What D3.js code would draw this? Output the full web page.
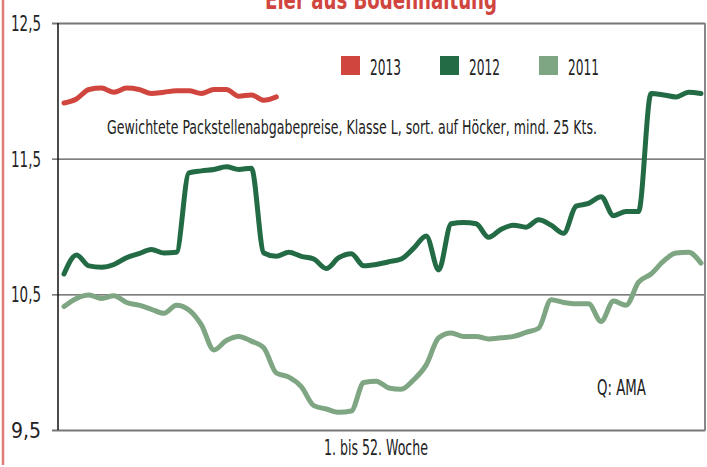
<!DOCTYPE html>
<html>
<head>
<meta charset="utf-8">
<script src="https://cdn.jsdelivr.net/npm/d3@7"></script>
<style>
  body { margin: 0; background: #fff; }
  text { font-family: "DejaVu Sans Condensed", "Liberation Sans", sans-serif; fill: #222; }
</style>
</head>
<body>
<script>
// weekly prices, week 1..52
let weeks = d3.range(1, 53);
let eggs2013 = [11.91, 11.94, 12.01, 12.02, 11.99, 12.02, 12.01, 11.98, 11.99, 12.0,
  12.0, 11.98, 12.01, 12.01, 11.96, 11.97, 11.93, 11.955];
let eggs2012 = [10.65, 10.79, 10.71, 10.70, 10.72, 10.77, 10.80, 10.83, 10.805, 10.81,
  11.395, 11.41, 11.42, 11.44, 11.42, 11.43, 10.805, 10.78, 10.81, 10.78,
  10.76, 10.69, 10.77, 10.80, 10.71, 10.72, 10.74, 10.76, 10.84, 10.93,
  10.68, 11.02, 11.03, 11.02, 10.92, 10.98, 11.01, 10.995, 11.05, 11.01,
  10.95, 11.15, 11.17, 11.22, 11.08, 11.11, 11.11, 11.98, 11.97, 11.955,
  11.99, 11.98];
let eggs2011 = [10.41, 10.47, 10.495, 10.47, 10.49, 10.44, 10.42, 10.39, 10.36, 10.42,
  10.385, 10.275, 10.09, 10.16, 10.19, 10.155, 10.105, 9.92, 9.89, 9.82,
  9.68, 9.655, 9.63, 9.64, 9.85, 9.86, 9.81, 9.80, 9.87, 9.98,
  10.18, 10.215, 10.19, 10.19, 10.17, 10.18, 10.19, 10.22, 10.25, 10.46,
  10.44, 10.43, 10.43, 10.30, 10.45, 10.42, 10.59, 10.65, 10.745, 10.805,
  10.81, 10.73];
let yTicks = [9.5, 10.5, 11.5, 12.5];
let seriesNames = ['2013', '2012', '2011'];
let colors = ['#d0463f', '#236b45', '#7ea683'];

let width = 707, height = 467;
let plotLeft = 58, plotRight = 705, plotTop = 23, plotBottom = 430;

let svg = d3.select('body').append('svg')
  .attr('width', width).attr('height', height)

let xScale = d3.scaleLinear().domain([1, 52]).range([64, 701])
let yScale = d3.scaleLinear().domain([9.5, 12.5]).range([plotBottom, plotTop])

// narrow font look: squeeze text to the widths of the original
function squeeze(sel, w) {
  sel.attr('textLength', w).attr('lengthAdjust', 'spacingAndGlyphs')
}

// red strip on the left
svg.append('line')
  .attr('x1', 3).attr('x2', 3).attr('y1', 0).attr('y2', 465)
  .attr('stroke', '#e07a78').attr('stroke-width', 2.5)

// title, cut off at the top like the original
svg.append('text')
  .attr('x', 265).attr('y', 9)
  .style('font-size', '26px').style('font-weight', 'bold')
  .style('fill', '#d0463f')
  .text('Eier aus Bodenhaltung')
  .call(squeeze, 232)

// y axis with gridlines
let yAxis = d3.axisLeft(yScale)
  .tickValues(yTicks)
  .tickSize(-(plotRight - plotLeft + 6))
  .tickPadding(11)
  .tickFormat(d => d3.format('.1f')(d).replace('.', ','))

let gy = svg.append('g')
  .attr('transform', 'translate(' + (plotLeft - 6) + ',0)')
  .call(yAxis)
gy.select('.domain').remove()
gy.selectAll('.tick line').attr('stroke', '#555').attr('stroke-width', 1.2)
gy.selectAll('.tick text')
  .style('font-size', '21px').attr('fill', '#222').attr('dy', '0.36em')
  .call(squeeze, 30)
gy.selectAll('.tick').filter(d => d == 9.5 || d == 12.5)
  .select('line').attr('stroke', '#777').attr('stroke-width', 2.2)

// left axis and right frame
svg.append('line')
  .attr('x1', plotLeft).attr('x2', plotLeft).attr('y1', plotTop).attr('y2', plotBottom)
  .attr('stroke', '#111').attr('stroke-width', 1.5)
svg.append('line')
  .attr('x1', plotRight).attr('x2', plotRight).attr('y1', plotTop).attr('y2', plotBottom + 1)
  .attr('stroke', '#888').attr('stroke-width', 2)

let line = d3.line()
  .x((d, i) => xScale(weeks[i]))
  .y(d => yScale(d))
  .curve(d3.curveMonotoneX)

let allSeries = [eggs2011, eggs2012, eggs2013];
let allColors = [colors[2], colors[1], colors[0]];
svg.selectAll('path.series')
  .data(allSeries)
  .enter()
  .append('path')
  .attr('class', 'series')
  .attr('d', d => line(d))
  .attr('fill', 'none')
  .attr('stroke', (d, i) => allColors[i])
  .attr('stroke-width', 5)
  .attr('stroke-linejoin', 'round')
  .attr('stroke-linecap', 'round')

// legend
let legend = svg.selectAll('g.legend')
  .data(seriesNames)
  .enter()
  .append('g')
  .attr('class', 'legend')
  .attr('transform', (d, i) => 'translate(' + (341 + i * 99) + ',56)')
legend.append('rect')
  .attr('width', 19).attr('height', 19)
  .attr('fill', (d, i) => colors[i])
legend.append('text')
  .attr('x', 29).attr('y', 19)
  .style('font-size', '22px')
  .text(d => d)
  .call(squeeze, 31)

svg.append('text')
  .attr('x', 107).attr('y', 134)
  .style('font-size', '20px')
  .text('Gewichtete Packstellenabgabepreise, Klasse L, sort. auf Höcker, mind. 25 Kts.')
  .call(squeeze, 490)

svg.append('text')
  .attr('x', 597).attr('y', 395)
  .style('font-size', '21px')
  .text('Q: AMA')
  .call(squeeze, 49)

svg.append('text')
  .attr('x', 324).attr('y', 455)
  .style('font-size', '21px')
  .text('1. bis 52. Woche')
  .call(squeeze, 104)
</script>
</body>
</html>
